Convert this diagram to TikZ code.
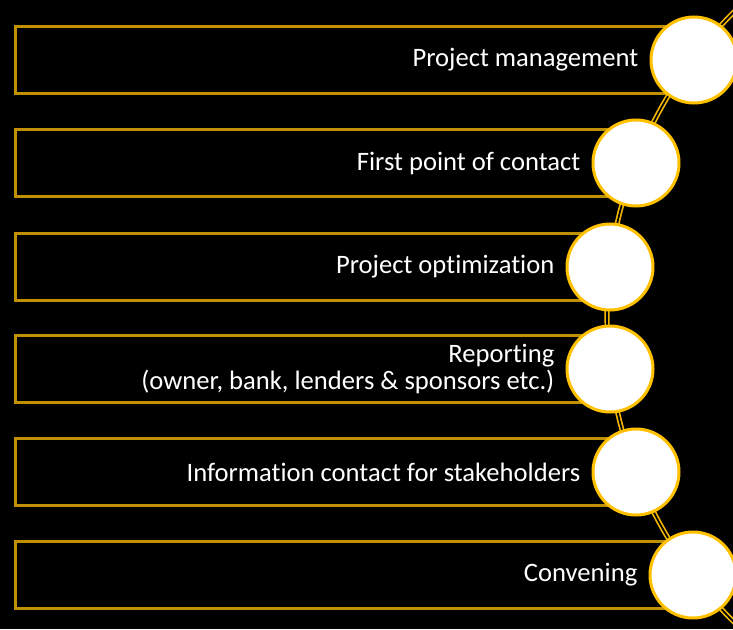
\documentclass[tikz,border=0pt]{standalone}
\usepackage{fontspec}
\setmainfont[Ligatures=NoCommon]{Carlito}
\usetikzlibrary{positioning}
\definecolor{gold}{HTML}{FFC000}
\definecolor{darkgold}{HTML}{BF9000}
\begin{document}
\begin{tikzpicture}[x=1pt, y=-1pt,
    box/.style = {draw=darkgold, line width=3pt, minimum height=67pt, anchor=west, inner sep=0pt},
    dot/.style = {draw=gold, fill=white, circle, line width=3pt, minimum size=86pt, inner sep=0pt},
    txt/.style = {text=white, font=\fontsize{26.6}{27}\selectfont, align=right, inner sep=0pt},
    link/.style = {draw=gold!95!black, line width=1.7pt, double=black, double distance=1.7pt}]
    \fill[black] (0,0) rectangle (733,629);
    \useasboundingbox (0,0) rectangle (733,629);
    \clip (0,0) rectangle (733,629);
    %Boxes
    \node[box, minimum width=680pt] (box1) at (13.5,60) {};
    \node[box, minimum width=622pt] (box2) at (13.5,163) {};
    \node[box, minimum width=596pt] (box3) at (13.5,267) {};
    \node[box, minimum width=596pt] (box4) at (13.5,369) {};
    \node[box, minimum width=622pt] (box5) at (13.5,472) {};
    \node[box, minimum width=680pt] (box6) at (13.5,575) {};
    %Curve
    \coordinate (hub) at (1037,317);
    \draw[link] (hub) circle [radius=430pt];
    %Circles
    \node[dot] (dot1) at (694,60) {};
    \node[dot] (dot2) at (636,163) {};
    \node[dot] (dot3) at (610,267) {};
    \node[dot] (dot4) at (610,369) {};
    \node[dot] (dot5) at (636,472) {};
    \node[dot] (dot6) at (693,575) {};
    %Labels
    \node[txt] (lbl1) [left=11pt of dot1] {Project management};
    \node[txt] (lbl2) [left=11pt of dot2] {First point of contact};
    \node[txt] (lbl3) [left=11pt of dot3] {Project optimization};
    \node[txt] (lbl4) [left=11pt of dot4] {Reporting\\(owner, bank, lenders \& sponsors etc.)};
    \node[txt] (lbl5) [left=11pt of dot5] {Information contact for stakeholders};
    \node[txt] (lbl6) [left=11pt of dot6] {Convening};
\end{tikzpicture}
\end{document}
